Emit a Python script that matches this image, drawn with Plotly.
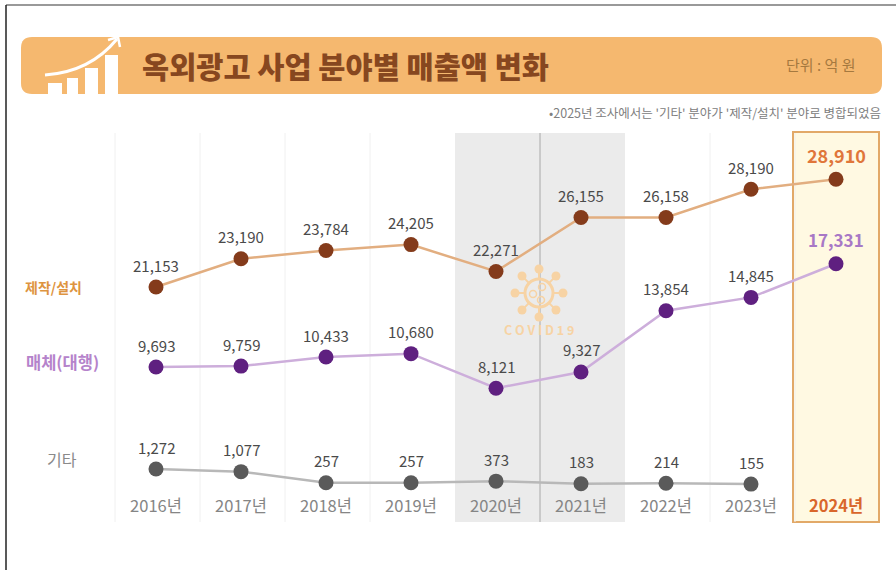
import math
import plotly.graph_objects as go

years = [2016, 2017, 2018, 2019, 2020, 2021, 2022, 2023, 2024]
year_labels = ["2016년", "2017년", "2018년", "2019년", "2020년", "2021년", "2022년", "2023년",
               '<b><span style="color:#D9662B">2024년</span></b>']
production = [21153, 23190, 23784, 24205, 22271, 26155, 26158, 28190, 28910]
media = [9693, 9759, 10433, 10680, 8121, 9327, 13854, 14845, 17331]
other = [1272, 1077, 257, 257, 373, 183, 214, 155]

FONT = "Noto Sans CJK KR"
L, R, T, B = 115, 880, 133, 492


def xp(px):
    return (px - L) / (R - L)


def yp(py):
    return (B - py) / (B - T)


def rect(x0, y0, x1, y1, kind="rect", **kw):
    return dict(type=kind, xref="paper", yref="paper", x0=xp(x0), x1=xp(x1), y0=yp(y1), y1=yp(y0), **kw)


def line(x0, y0, x1, y1, color, width=1, layer="below"):
    return dict(type="line", xref="paper", yref="paper", x0=xp(x0), x1=xp(x1), y0=yp(y0), y1=yp(y1),
                line=dict(color=color, width=width), layer=layer)


def circle(cx, cy, r, **kw):
    return rect(cx - r, cy - r, cx + r, cy + r, kind="circle", **kw)


def P(x, y):
    return f"{xp(x):.5f},{yp(y):.5f}"


def text(px, py, s, size, color, anchor="center", weight=None):
    font = dict(family=FONT, size=size, color=color)
    if weight:
        font["weight"] = weight
    return dict(xref="paper", yref="paper", x=xp(px), y=yp(py), text=s, showarrow=False,
                xanchor=anchor, yanchor="middle", font=font)


shapes = []
# frame of the screenshot
shapes.append(line(6, 5, 896, 5, "#777777", 1.5))
shapes.append(line(6, 5, 6, 570, "#222222", 1.5))
# header band
r = 11
x0, y0, x1, y1 = 21, 37, 882, 94
shapes.append(dict(type="path", xref="paper", yref="paper", layer="below", fillcolor="#F5B86F", line=dict(width=0),
                   path=f"M {P(x0+r,y0)} L {P(x1-r,y0)} Q {P(x1,y0)} {P(x1,y0+r)} L {P(x1,y1-r)} Q {P(x1,y1)} {P(x1-r,y1)} "
                        f"L {P(x0+r,y1)} Q {P(x0,y1)} {P(x0,y1-r)} L {P(x0,y0+r)} Q {P(x0,y0)} {P(x0+r,y0)} Z"))
# header icon
for bx0, bx1, by in [(48, 62, 83), (67, 78, 78), (85, 98, 68), (105, 118, 55)]:
    shapes.append(rect(bx0, by, bx1, 95, fillcolor="#FFFFFF", line=dict(width=0), layer="below"))
shapes.append(dict(type="path", xref="paper", yref="paper", layer="below", line=dict(color="#FFFFFF", width=3),
                   path=f"M {P(45,75)} Q {P(90,72)} {P(117,39)}"))
shapes.append(dict(type="path", xref="paper", yref="paper", layer="below", line=dict(color="#FFFFFF", width=2.5),
                   path=f"M {P(108,40)} L {P(118,37)} L {P(120,47)}"))
# covid band
shapes.append(rect(455, 133, 625, 522, fillcolor="#EBEBEB", line=dict(width=0), layer="below"))
# highlighted year
shapes.append(rect(793, 132, 879, 522, fillcolor="#FFF9E2", line=dict(color="#E2A968", width=2), layer="below"))
# column rules
for gx in [115, 200, 285, 370, 710, 795]:
    shapes.append(line(gx, 133, gx, 522, "#F0F0F0"))
shapes.append(line(540, 133, 540, 522, "#A8A8A8"))
# covid icon
covid = "#F7D3A4"
cx, cy = 539, 293
shapes.append(circle(cx, cy, 14, line=dict(color=covid, width=3), layer="below"))
for k in range(8):
    a = math.pi / 4 * k
    shapes.append(line(cx + 14 * math.cos(a), cy + 14 * math.sin(a), cx + 21 * math.cos(a), cy + 21 * math.sin(a), covid, 2))
    shapes.append(circle(cx + 24 * math.cos(a), cy + 24 * math.sin(a), 4.5, fillcolor=covid, line=dict(width=0), layer="below"))
for dx, dy in [(-6, 1), (3, -6), (2, 7)]:
    shapes.append(circle(cx + dx, cy + dy, 3.5, line=dict(color=covid, width=1.5), layer="below"))

annotations = [
    text(140, 65, "옥외광고 사업 분야별 매출액 변화", 29.5, "#87471F", "left", 900),
    text(784, 65, "단위 : 억 원", 15, "#A5793F", "left"),
    text(883, 112, "•2025년 조사에서는 '기타' 분야가 '제작/설치' 분야로 병합되었음", 12.5, "#808080", "right"),
    text(53, 287, "<b>제작/설치</b>", 14, "#DE9440"),
    text(62, 362, "<b>매체(대행)</b>", 16.5, "#B583CB"),
    text(62, 459, "기타", 16, "#8A8A8A"),
    text(539, 329, "<b>C O V I D 1 9</b>", 12.5, covid),
]

fig = go.Figure()
LABEL = "#4A4A4A"


def add(values, name, yaxis, line_color, marker_color, hi_color=None, hi_size=17):
    xs = years[:len(values)]
    fig.add_trace(go.Scatter(
        x=xs, y=values, name=name, yaxis=yaxis, mode="lines+markers",
        line=dict(color=line_color, width=2.5),
        marker=dict(color=marker_color, size=15),
        cliponaxis=False, showlegend=False))
    for yr, v in zip(xs, values):
        hi = yr == 2024
        annotations.append(dict(
            x=yr, y=v, xref="x", yref=yaxis, text=f"<b>{v:,}</b>" if hi else f"{v:,}",
            showarrow=False, yshift=24 if hi else 22, xanchor="center", yanchor="middle",
            font=dict(family=FONT, size=hi_size if hi else 15, color=hi_color if hi else LABEL)))


add(production, "제작/설치", "y", "#E2AE80", "#843B1B", "#E0763A", 18)
add(media, "매체(대행)", "y2", "#CDAEDB", "#5F2080", "#A878C6", 17)
add(other, "기타", "y3", "#B8B8B8", "#5A5A5A")

hidden = dict(visible=False, domain=[0, 1], fixedrange=True)
fig.update_layout(
    width=896, height=570, autosize=False,
    margin=dict(l=L, r=896 - R, t=T, b=570 - B),
    paper_bgcolor="#FFFFFF", plot_bgcolor="rgba(0,0,0,0)",
    font=dict(family=FONT),
    shapes=shapes, annotations=annotations,
    xaxis=dict(range=[2016 - 41 / 85, 2016 + 724 / 85], tickmode="array", tickvals=years, ticktext=year_labels,
               tickfont=dict(family=FONT, size=16.5, color="#858585"), showgrid=False, zeroline=False, showline=False,
               ticks="outside", ticklen=1, tickcolor="rgba(0,0,0,0)", ticklabelstandoff=-2),
    yaxis=dict(range=[6393, 32241], **hidden),
    yaxis2=dict(range=[443, 27009], overlaying="y", **hidden),
    yaxis3=dict(range=[-430, 26136], overlaying="y", **hidden),
)
fig.write_html("out.html", config=dict(displayModeBar=False),
               post_script="document.body.style.margin='0';document.documentElement.style.overflow='hidden';")
